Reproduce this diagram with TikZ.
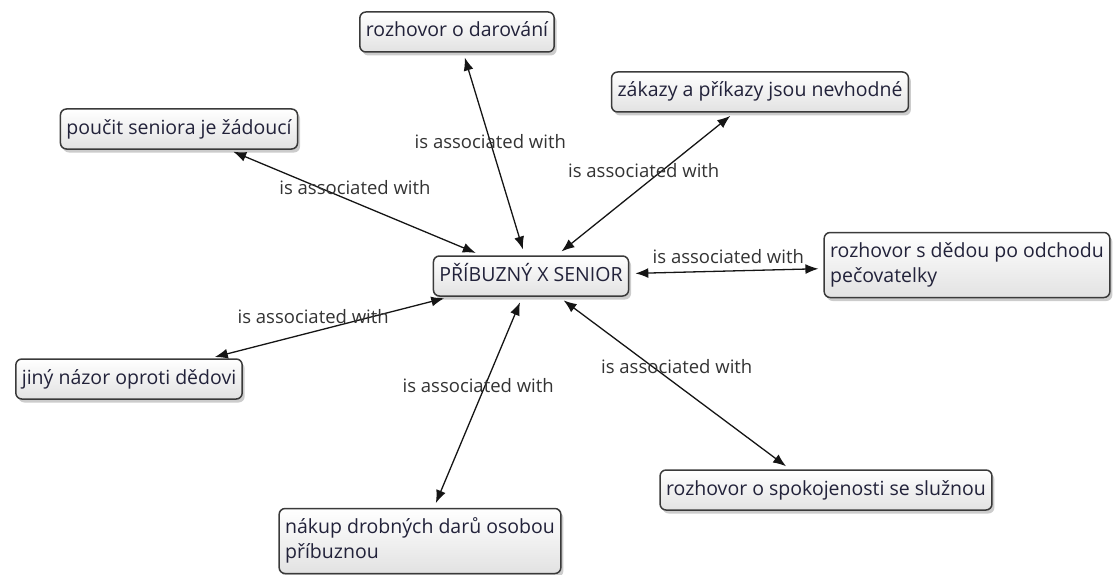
\documentclass[tikz,border=0pt]{standalone}
\usepackage{fontspec}
\setmainfont{Open Sans}
\usepackage{xcolor}
\usepackage{tikz}
\usetikzlibrary{arrows.meta,shadows}
\definecolor{boxline}{HTML}{3A3A3A}
\definecolor{boxfill}{HTML}{E2E2E2}
\definecolor{boxtext}{HTML}{22223A}
\definecolor{wireink}{HTML}{151515}
\definecolor{tagink}{HTML}{333333}
\tikzset{
  cbox/.style={draw=boxline, line width=1.5pt, top color=white, bottom color=boxfill,
    rounded corners=6pt, text=boxtext, align=left, font=\fontsize{19.5}{25}\selectfont,
    text height=15pt, text depth=5pt, inner xsep=6pt, inner ysep=10pt,
    drop shadow={opacity=0.4, shadow xshift=2.5pt, shadow yshift=-3.5pt}},
  cboxtwo/.style={cbox, text height=40pt},
  cwire/.style={{Latex[length=13pt,width=10pt]}-{Latex[length=13pt,width=10pt]}, line width=1.3pt, wireink,
    shorten >=5pt, shorten <=6pt},
  ctag/.style={font=\fontsize{18.5}{22}\selectfont, text=tagink, inner sep=0pt},
}

\begin{document}
\begin{tikzpicture}[x=1pt, y=-1pt]
  \useasboundingbox (0,0) rectangle (1118,575);
  \node[cbox] (rel) at (531,276) {PŘÍBUZNÝ X SENIOR};
  \node[cbox] (gift) at (457,32) {rozhovor o darování};
  \node[cbox] (ban) at (760,92) {zákazy a příkazy jsou nevhodné};
  \node[cbox] (teach) at (179,129) {poučit seniora je žádoucí};
  \node[cboxtwo] (grandpa) at (967,265) {rozhovor s dědou po odchodu\\pečovatelky};
  \node[cboxtwo] (buy) at (420,541) {nákup drobných darů osobou\\příbuznou};
  \node[cbox] (view) at (129,379) {jiný názor oproti dědovi};
  \node[cbox] (care) at (826,490) {rozhovor o spokojenosti se služnou};

  \draw[cwire] (rel) -- node[ctag, pos=0.56] {is associated with} (gift);
  \draw[cwire] (rel) -- node[ctag, pos=0.49, yshift=15pt] {is associated with} (ban);
  \draw[cwire] (rel) -- node[ctag, pos=0.50, yshift=15pt] {is associated with} (teach);
  \draw[cwire] (rel) -- node[ctag, pos=0.51, yshift=14pt] {is associated with} (grandpa);
  \draw[cwire] (rel) -- node[ctag, pos=0.57, yshift=15pt] {is associated with} (view);
  \draw[cwire] (rel) -- node[ctag, pos=0.42, xshift=-7pt] {is associated with} (buy);
  \draw[cwire] (rel) -- node[ctag, pos=0.51, yshift=18pt] {is associated with} (care.150);
\end{tikzpicture}
\end{document}
